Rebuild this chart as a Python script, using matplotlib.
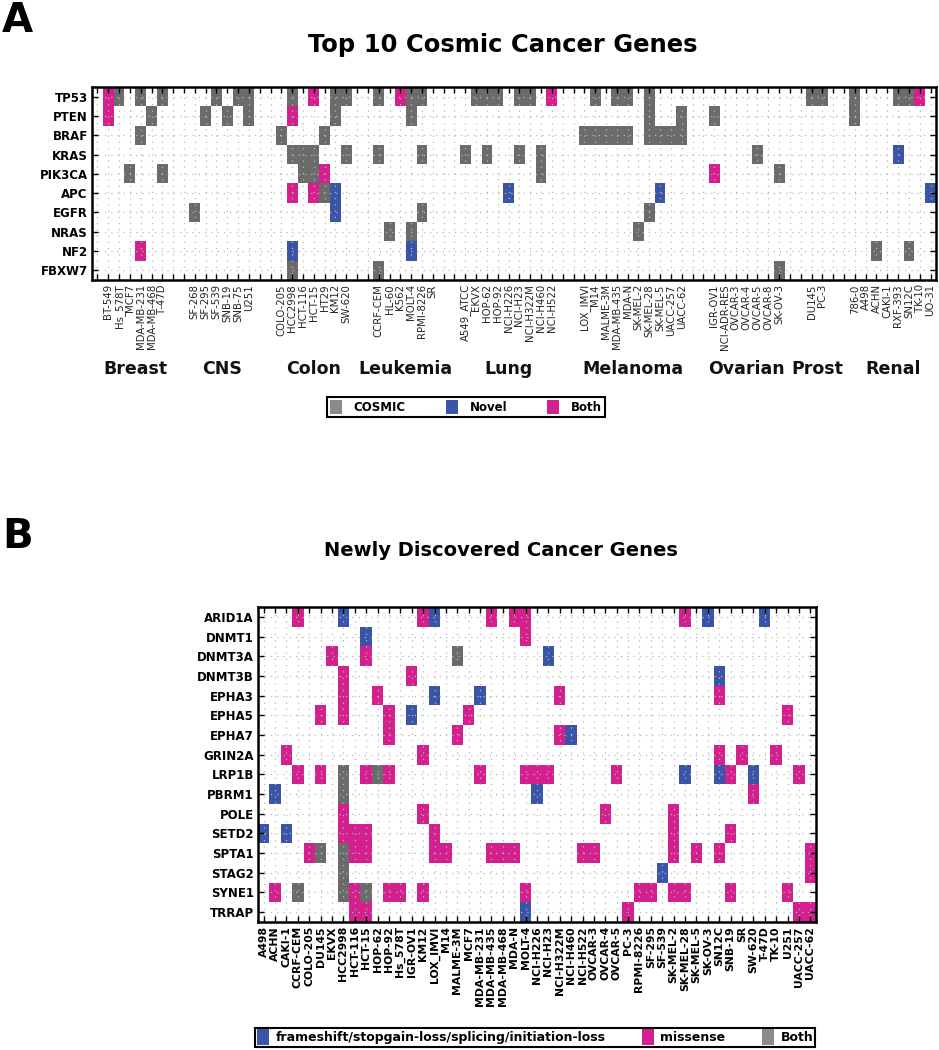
import matplotlib
matplotlib.use("Agg")
import matplotlib.pyplot as plt
import numpy as np
from matplotlib.colors import ListedColormap
from matplotlib.patches import Patch

# ---------------- panel A: top 10 COSMIC genes ----------------
genes_a = ["TP53", "PTEN", "BRAF", "KRAS", "PIK3CA", "APC", "EGFR", "NRAS", "NF2", "FBXW7"]
tissues = ["Breast", "CNS", "Colon", "Leukemia", "Lung", "Melanoma", "Ovarian", "Prost", "Renal"]
breast = ["BT-549", "Hs_578T", "MCF7", "MDA-MB-231", "MDA-MB-468", "T-47D"]
cns = ["SF-268", "SF-295", "SF-539", "SNB-19", "SNB-75", "U251"]
colon = ["COLO-205", "HCC2998", "HCT-116", "HCT-15", "HT29", "KM12", "SW-620"]
leukemia = ["CCRF-CEM", "HL-60", "K562", "MOLT-4", "RPMI-8226", "SR"]
lung = ["A549_ATCC", "EKVX", "HOP-62", "HOP-92", "NCI-H226", "NCI-H23", "NCI-H322M",
        "NCI-H460", "NCI-H522"]
melanoma = ["LOX_IMVI", "M14", "MALME-3M", "MDA-MB-435", "MDA-N", "SK-MEL-2", "SK-MEL-28",
            "SK-MEL-5", "UACC-257", "UACC-62"]
ovarian = ["IGR-OV1", "NCI-ADR-RES", "OVCAR-3", "OVCAR-4", "OVCAR-5", "OVCAR-8", "SK-OV-3"]
prostate = ["DU145", "PC-3"]
renal = ["786-0", "A498", "ACHN", "CAKI-1", "RXF-393", "SN12C", "TK-10", "UO-31"]
groups = [breast, cns, colon, leukemia, lung, melanoma, ovarian, prostate, renal]

cosmic_a = [
    ("TP53", "Hs_578T"), ("TP53", "MDA-MB-231"), ("TP53", "T-47D"), ("TP53", "SF-539"),
    ("TP53", "SNB-75"), ("TP53", "U251"), ("TP53", "HCC2998"), ("TP53", "KM12"),
    ("TP53", "SW-620"), ("TP53", "CCRF-CEM"), ("TP53", "MOLT-4"), ("TP53", "RPMI-8226"),
    ("TP53", "EKVX"), ("TP53", "HOP-62"), ("TP53", "HOP-92"), ("TP53", "NCI-H23"),
    ("TP53", "NCI-H322M"), ("TP53", "M14"), ("TP53", "MDA-MB-435"), ("TP53", "MDA-N"),
    ("TP53", "SK-MEL-28"), ("TP53", "DU145"), ("TP53", "PC-3"), ("TP53", "786-0"),
    ("TP53", "RXF-393"), ("TP53", "SN12C"),
    ("PTEN", "MDA-MB-468"), ("PTEN", "SF-295"), ("PTEN", "SNB-19"), ("PTEN", "U251"),
    ("PTEN", "KM12"), ("PTEN", "MOLT-4"), ("PTEN", "SK-MEL-28"), ("PTEN", "UACC-62"),
    ("PTEN", "IGR-OV1"), ("PTEN", "786-0"),
    ("BRAF", "MDA-MB-231"), ("BRAF", "COLO-205"), ("BRAF", "HT29"), ("BRAF", "LOX_IMVI"),
    ("BRAF", "M14"), ("BRAF", "MALME-3M"), ("BRAF", "MDA-MB-435"), ("BRAF", "MDA-N"),
    ("BRAF", "SK-MEL-28"), ("BRAF", "SK-MEL-5"), ("BRAF", "UACC-257"), ("BRAF", "UACC-62"),
    ("KRAS", "HCC2998"), ("KRAS", "HCT-116"), ("KRAS", "HCT-15"), ("KRAS", "SW-620"),
    ("KRAS", "CCRF-CEM"), ("KRAS", "RPMI-8226"), ("KRAS", "A549_ATCC"), ("KRAS", "HOP-62"),
    ("KRAS", "NCI-H23"), ("KRAS", "NCI-H460"), ("KRAS", "OVCAR-5"),
    ("PIK3CA", "MCF7"), ("PIK3CA", "T-47D"), ("PIK3CA", "HCT-116"), ("PIK3CA", "HCT-15"),
    ("PIK3CA", "NCI-H460"), ("PIK3CA", "SK-OV-3"),
    ("APC", "HT29"),
    ("EGFR", "SF-268"), ("EGFR", "RPMI-8226"), ("EGFR", "SK-MEL-28"),
    ("NRAS", "HL-60"), ("NRAS", "MOLT-4"), ("NRAS", "SK-MEL-2"),
    ("NF2", "ACHN"), ("NF2", "SN12C"),
    ("FBXW7", "HCC2998"), ("FBXW7", "CCRF-CEM"), ("FBXW7", "SK-OV-3"),
]
novel_a = [
    ("KRAS", "RXF-393"), ("APC", "KM12"), ("APC", "NCI-H226"), ("APC", "SK-MEL-5"),
    ("APC", "UO-31"), ("EGFR", "KM12"), ("NF2", "HCC2998"), ("NF2", "MOLT-4"),
]
both_a = [
    ("TP53", "BT-549"), ("TP53", "HCT-15"), ("TP53", "K562"), ("TP53", "NCI-H522"),
    ("TP53", "TK-10"), ("PTEN", "BT-549"), ("PTEN", "HCC2998"), ("PIK3CA", "HT29"),
    ("PIK3CA", "IGR-OV1"), ("APC", "HCC2998"), ("APC", "HCT-15"), ("NF2", "MDA-MB-231"),
]

# ---------------- panel B: newly discovered genes ----------------
genes_b = ["ARID1A", "DNMT1", "DNMT3A", "DNMT3B", "EPHA3", "EPHA5", "EPHA7", "GRIN2A",
           "LRP1B", "PBRM1", "POLE", "SETD2", "SPTA1", "STAG2", "SYNE1", "TRRAP"]
lines_b = ["A498", "ACHN", "CAKI-1", "CCRF-CEM", "COLO-205", "DU145", "EKVX", "HCC2998",
           "HCT-116", "HCT-15", "HOP-62", "HOP-92", "Hs_578T", "IGR-OV1", "KM12", "LOX_IMVI",
           "M14", "MALME-3M", "MCF7", "MDA-MB-231", "MDA-MB-435", "MDA-MB-468", "MDA-N",
           "MOLT-4", "NCI-H226", "NCI-H23", "NCI-H322M", "NCI-H460", "NCI-H522", "OVCAR-3",
           "OVCAR-4", "OVCAR-5", "PC-3", "RPMI-8226", "SF-295", "SF-539", "SK-MEL-2",
           "SK-MEL-28", "SK-MEL-5", "SK-OV-3", "SN12C", "SNB-19", "SR", "SW-620", "T-47D",
           "TK-10", "U251", "UACC-257", "UACC-62"]

frameshift_b = [
    ("ARID1A", "HCC2998"), ("ARID1A", "LOX_IMVI"), ("ARID1A", "SK-OV-3"), ("ARID1A", "T-47D"),
    ("DNMT1", "HCT-15"), ("DNMT3A", "NCI-H23"), ("DNMT3B", "SN12C"),
    ("EPHA3", "LOX_IMVI"), ("EPHA3", "MDA-MB-231"), ("EPHA5", "IGR-OV1"), ("EPHA7", "NCI-H460"),
    ("LRP1B", "SK-MEL-28"), ("LRP1B", "SN12C"), ("LRP1B", "SW-620"),
    ("PBRM1", "ACHN"), ("PBRM1", "NCI-H226"), ("SETD2", "A498"), ("SETD2", "CAKI-1"),
    ("STAG2", "SF-539"), ("TRRAP", "MOLT-4"),
]
missense_b = [
    ("ARID1A", "CCRF-CEM"), ("ARID1A", "KM12"), ("ARID1A", "MDA-MB-435"), ("ARID1A", "MDA-N"),
    ("ARID1A", "MOLT-4"), ("ARID1A", "SK-MEL-28"),
    ("DNMT1", "MOLT-4"), ("DNMT3A", "EKVX"), ("DNMT3A", "HCT-15"),
    ("DNMT3B", "HCC2998"), ("DNMT3B", "IGR-OV1"),
    ("EPHA3", "HCC2998"), ("EPHA3", "HOP-62"), ("EPHA3", "NCI-H322M"), ("EPHA3", "SN12C"),
    ("EPHA5", "DU145"), ("EPHA5", "HCC2998"), ("EPHA5", "HOP-92"), ("EPHA5", "MCF7"),
    ("EPHA5", "U251"),
    ("EPHA7", "HOP-92"), ("EPHA7", "MALME-3M"), ("EPHA7", "NCI-H322M"),
    ("GRIN2A", "CAKI-1"), ("GRIN2A", "KM12"), ("GRIN2A", "SN12C"), ("GRIN2A", "SR"),
    ("GRIN2A", "TK-10"),
    ("LRP1B", "CCRF-CEM"), ("LRP1B", "DU145"), ("LRP1B", "HCT-15"), ("LRP1B", "HOP-92"),
    ("LRP1B", "MDA-MB-231"), ("LRP1B", "MOLT-4"), ("LRP1B", "NCI-H226"), ("LRP1B", "NCI-H23"),
    ("LRP1B", "OVCAR-5"), ("LRP1B", "SNB-19"), ("LRP1B", "UACC-257"),
    ("PBRM1", "SW-620"),
    ("POLE", "HCC2998"), ("POLE", "KM12"), ("POLE", "OVCAR-4"), ("POLE", "SK-MEL-2"),
    ("SETD2", "HCC2998"), ("SETD2", "HCT-116"), ("SETD2", "HCT-15"), ("SETD2", "LOX_IMVI"),
    ("SETD2", "SK-MEL-2"), ("SETD2", "SNB-19"),
    ("SPTA1", "COLO-205"), ("SPTA1", "HCT-116"), ("SPTA1", "HCT-15"), ("SPTA1", "LOX_IMVI"),
    ("SPTA1", "M14"), ("SPTA1", "MDA-MB-435"), ("SPTA1", "MDA-MB-468"), ("SPTA1", "MDA-N"),
    ("SPTA1", "NCI-H522"), ("SPTA1", "OVCAR-3"), ("SPTA1", "SK-MEL-2"), ("SPTA1", "SK-MEL-5"),
    ("SPTA1", "SN12C"), ("SPTA1", "UACC-62"),
    ("STAG2", "UACC-62"),
    ("SYNE1", "ACHN"), ("SYNE1", "HCT-116"), ("SYNE1", "HOP-92"), ("SYNE1", "Hs_578T"),
    ("SYNE1", "KM12"), ("SYNE1", "MOLT-4"), ("SYNE1", "RPMI-8226"), ("SYNE1", "SF-295"),
    ("SYNE1", "SK-MEL-2"), ("SYNE1", "SK-MEL-28"), ("SYNE1", "SNB-19"), ("SYNE1", "U251"),
    ("TRRAP", "HCT-116"), ("TRRAP", "HCT-15"), ("TRRAP", "PC-3"), ("TRRAP", "UACC-257"),
    ("TRRAP", "UACC-62"),
]
both_b = [
    ("DNMT3A", "MALME-3M"), ("LRP1B", "HCC2998"), ("LRP1B", "HOP-62"), ("PBRM1", "HCC2998"),
    ("SPTA1", "DU145"), ("SPTA1", "HCC2998"), ("STAG2", "HCC2998"), ("SYNE1", "CCRF-CEM"),
    ("SYNE1", "HCC2998"), ("SYNE1", "HCT-15"),
]

GRAY = "#6b6b6b"
BLUE = "#3a55a8"
PINK = "#d41f8e"
LEG_GRAY = "#8a8a8a"

fig = plt.figure(figsize=(9.39, 10.5), dpi=100)


def style_axis(ax, nx, ny):
    ax.set_xlim(0, nx)
    ax.set_ylim(ny, 0)
    ax.set_xticks(np.arange(nx) + 0.5)
    ax.set_yticks(np.arange(ny) + 0.5)
    ax.grid(True, color="#b8b8b8", linestyle=(0, (1, 4)), linewidth=0.9)
    ax.tick_params(direction="in", top=True, right=True, length=4, width=1, pad=3)
    for s in ax.spines.values():
        s.set_linewidth(1.8)


# ---- panel A ----
col_of = {}
pos = 1
centers = []
for grp in groups:
    start = pos
    for c in grp:
        col_of[c] = pos
        pos += 1
    centers.append((start + pos) / 2.0)
    pos += 2
ncol_a = pos - 2

mat_a = np.zeros((len(genes_a), ncol_a))
for code, pairs in ((1, cosmic_a), (2, novel_a), (3, both_a)):
    for g, c in pairs:
        mat_a[genes_a.index(g), col_of[c]] = code

ax1 = fig.add_axes([92 / 939, 1 - 280 / 1050, 844 / 939, 193 / 1050])
cmap = ListedColormap([GRAY, BLUE, PINK])
ax1.pcolormesh(np.arange(ncol_a + 1), np.arange(len(genes_a) + 1),
               np.ma.masked_equal(mat_a, 0), cmap=cmap, vmin=0.5, vmax=3.5)
style_axis(ax1, ncol_a, len(genes_a))
xlab_a = [""] * ncol_a
for c, i in col_of.items():
    xlab_a[i] = c
ax1.set_xticklabels(xlab_a, rotation=90, fontsize=7.3, color="#222222")
ax1.set_yticklabels(genes_a, fontsize=8.5, fontweight="bold")
for name, cx in zip(tissues, centers):
    ax1.text(cx, -0.46, name, transform=ax1.get_xaxis_transform(), ha="center",
             va="center", fontsize=12.5, fontweight="bold", color="#111111")

fig.legend(handles=[Patch(facecolor=LEG_GRAY), Patch(facecolor=BLUE), Patch(facecolor=PINK)],
           labels=["COSMIC", "Novel", "Both"], loc="center",
           bbox_to_anchor=(466 / 939, 1 - 407 / 1050), ncol=3, fancybox=False,
           edgecolor="black", framealpha=1, prop={"weight": "bold", "size": 8.5},
           handlelength=1.0, handleheight=1.5, handletextpad=1.0, columnspacing=3.4,
           borderpad=0.25, borderaxespad=0).get_frame().set_linewidth(1.5)

# ---- panel B ----
mat_b = np.zeros((len(genes_b), len(lines_b)))
for code, pairs in ((1, frameshift_b), (2, missense_b), (3, both_b)):
    for g, c in pairs:
        mat_b[genes_b.index(g), lines_b.index(c)] = code

ax2 = fig.add_axes([258 / 939, 1 - 922 / 1050, 558 / 939, 315 / 1050])
cmap_b = ListedColormap([BLUE, PINK, GRAY])
ax2.pcolormesh(np.arange(len(lines_b) + 1), np.arange(len(genes_b) + 1),
               np.ma.masked_equal(mat_b, 0), cmap=cmap_b, vmin=0.5, vmax=3.5)
style_axis(ax2, len(lines_b), len(genes_b))
ax2.set_xticklabels(lines_b, rotation=90, fontsize=7.8, fontweight="bold")
ax2.set_yticklabels(genes_b, fontsize=8.5, fontweight="bold")

fig.legend(handles=[Patch(facecolor=BLUE), Patch(facecolor=PINK), Patch(facecolor=LEG_GRAY)],
           labels=["frameshift/stopgain-loss/splicing/initiation-loss", "missense", "Both"],
           loc="center", bbox_to_anchor=(535 / 939, 1 - 1037 / 1050), ncol=3, fancybox=False,
           edgecolor="black", framealpha=1, prop={"weight": "bold", "size": 9},
           handlelength=1.0, handleheight=1.5, handletextpad=0.5, columnspacing=2.9,
           borderpad=0.15, borderaxespad=0).get_frame().set_linewidth(1.5)

# ---- titles ----
fig.text(0.002, 1 - 1 / 1050, "A", fontsize=29, fontweight="bold", va="top")
fig.text(503 / 939, 1 - 45 / 1050, "Top 10 Cosmic Cancer Genes", fontsize=17.5,
         fontweight="bold", ha="center", va="center")
fig.text(0.002, 1 - 517 / 1050, "B", fontsize=29, fontweight="bold", va="top")
fig.text(501 / 939, 1 - 550 / 1050, "Newly Discovered Cancer Genes", fontsize=14,
         fontweight="bold", ha="center", va="center")

fig.savefig("out.png", dpi=100)
